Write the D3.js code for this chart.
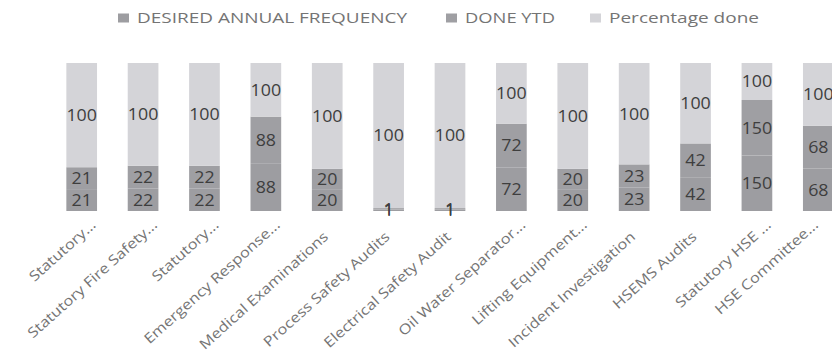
<!DOCTYPE html>
<html>
<head>
<meta charset="utf-8">
<script src="https://cdn.jsdelivr.net/npm/d3@7/dist/d3.min.js"></script>
<style>
  html, body { margin: 0; padding: 0; background: #ffffff; }
  svg { display: block; }
</style>
</head>
<body>
<svg id="chart" width="832" height="360"></svg>
<script>
const categories = ["Statutory...", "Statutory Fire Safety...", "Statutory...", "Emergency Response...",
  "Medical Examinations", "Process Safety Audits", "Electrical Safety Audit", "Oil Water Separator...",
  "Lifting Equipment...", "Incident Investigation", "HSEMS Audits", "Statutory HSE ...", "HSE Committee..."];
const desiredAnnualFrequency = [21, 22, 22, 88, 20, 1, 1, 72, 20, 23, 42, 150, 68];
const doneYTD = [21, 22, 22, 88, 20, 1, 1, 72, 20, 23, 42, 150, 68];
const percentageDone = [100, 100, 100, 100, 100, 100, 100, 100, 100, 100, 100, 100, 100];
const seriesNames = ["DESIRED ANNUAL FREQUENCY", "DONE YTD", "Percentage done"];

const colors = ["#9d9da1", "#9f9fa3", "#d4d4d8"];
const keys = ["desired", "done", "pct"];

const rows = categories.map((c, i) => ({
  key: i, cat: c, desired: desiredAnnualFrequency[i], done: doneYTD[i], pct: percentageDone[i]
}));

const W = 832;
const svg = d3.select("#chart");
const x = d3.scaleBand().domain(rows.map(r => r.key)).range([51, 849]).paddingInner(0.5).paddingOuter(0.25);
const y = d3.scaleLinear().domain([0, 1]).range([211, 63]);

const stacked = d3.stack().keys(keys).offset(d3.stackOffsetExpand)(rows);

const g = svg.append("g");
stacked.forEach((s, si) => {
  g.selectAll(null).data(s).enter().append("rect")
    .attr("x", d => x(d.data.key))
    .attr("width", x.bandwidth())
    .attr("y", d => y(d[1]))
    .attr("height", d => Math.max(0, y(d[0]) - y(d[1])))
    .attr("fill", colors[si]);
});
stacked.forEach((s, si) => {
  g.selectAll(null).data(s).enter().append("text")
    .attr("transform", d => `translate(${x(d.data.key) + x.bandwidth() / 2},${(y(d[0]) + y(d[1])) / 2}) scale(1.08,1)`)
    .attr("dy", "0.36em")
    .attr("text-anchor", "middle")
    .attr("font-family", "'Open Sans', sans-serif")
    .attr("font-size", 16.5)
    .attr("fill", "#3e3e3e")
    .text(d => d.data[keys[si]]);
});

// category axis labels
const axis = svg.append("g")
  .call(d3.axisBottom(x).tickSize(0).tickFormat(k => categories[k]));
axis.select(".domain").remove();
axis.selectAll(".tick").attr("transform", null);
axis.selectAll(".tick text")
  .attr("font-family", "'Open Sans', sans-serif")
  .attr("font-size", 14)
  .attr("fill", "#747474")
  .attr("text-anchor", "end")
  .attr("x", 0).attr("y", 0).attr("dy", 0)
  .attr("dx", k => categories[k].endsWith("...") ? 15 : 0)
  .attr("transform", k => {
    const cx = Math.min(x(k) + x.bandwidth() / 2 + 2, W - 26);
    return `translate(${cx},238) rotate(-42) scale(1.18,1)`;
  });

// legend
const legendSq = [118, 446, 590];
const legendTx = [137, 465, 609];
const legendW = [270, 90, 150];
const legend = svg.append("g");
seriesNames.forEach((n, i) => {
  legend.append("rect").attr("x", legendSq[i]).attr("y", 13.5).attr("width", 11).attr("height", 9)
    .attr("fill", colors[i]);
  legend.append("text").attr("x", legendTx[i]).attr("y", 23)
    .attr("font-family", "'Open Sans', sans-serif").attr("font-size", 14)
    .attr("fill", "#747474")
    .attr("textLength", legendW[i]).attr("lengthAdjust", "spacingAndGlyphs")
    .text(n);
});
</script>
</body>
</html>
